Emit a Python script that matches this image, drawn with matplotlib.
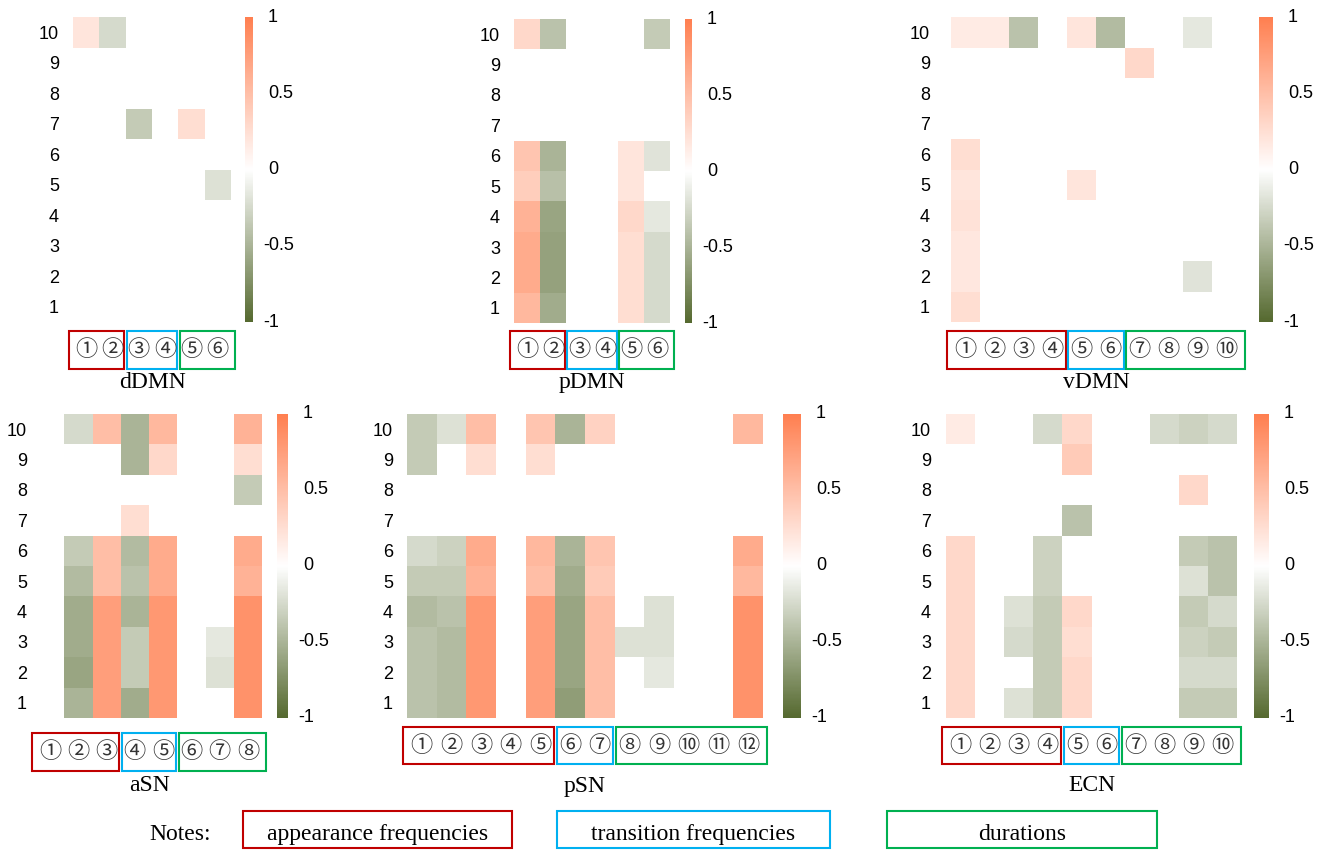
import numpy as np
import matplotlib.pyplot as plt
import matplotlib.transforms as mtransforms
from matplotlib.colors import LinearSegmentedColormap
from matplotlib.patches import Rectangle

n = np.nan

# values of each network, rows from 10 (top) to 1 (bottom)
ddmn = [
    [0.2, -0.25, n, n, n, n],
    [n, n, n, n, n, n],
    [n, n, n, n, n, n],
    [n, n, -0.35, n, 0.25, n],
    [n, n, n, n, n, n],
    [n, n, n, n, n, -0.2],
    [n, n, n, n, n, n],
    [n, n, n, n, n, n],
    [n, n, n, n, n, n],
    [n, n, n, n, n, n],
]
pdmn = [
    [0.3, -0.4, n, n, n, -0.35],
    [n, n, n, n, n, n],
    [n, n, n, n, n, n],
    [n, n, n, n, n, n],
    [0.45, -0.5, n, n, 0.2, -0.18],
    [0.38, -0.42, n, n, 0.2, n],
    [0.6, -0.6, n, n, 0.3, -0.15],
    [0.65, -0.62, n, n, 0.25, -0.25],
    [0.65, -0.62, n, n, 0.25, -0.25],
    [0.55, -0.55, n, n, 0.25, -0.25],
]
vdmn = [
    [0.15, 0.15, -0.4, n, 0.2, -0.45, n, n, -0.15, n],
    [n, n, n, n, n, n, 0.3, n, n, n],
    [n, n, n, n, n, n, n, n, n, n],
    [n, n, n, n, n, n, n, n, n, n],
    [0.25, n, n, n, n, n, n, n, n, n],
    [0.2, n, n, n, 0.2, n, n, n, n, n],
    [0.22, n, n, n, n, n, n, n, n, n],
    [0.18, n, n, n, n, n, n, n, n, n],
    [0.18, n, n, n, n, n, n, n, -0.18, n],
    [0.25, n, n, n, n, n, n, n, n, n],
]
asn = [
    [n, -0.25, 0.5, -0.5, 0.55, n, n, 0.6],
    [n, n, n, -0.5, 0.3, n, n, 0.25],
    [n, n, n, n, n, n, n, -0.35],
    [n, n, n, 0.25, n, n, n, n],
    [n, -0.35, 0.5, -0.45, 0.65, n, n, 0.65],
    [n, -0.45, 0.5, -0.4, 0.65, n, n, 0.6],
    [n, -0.55, 0.75, -0.5, 0.8, n, n, 0.85],
    [n, -0.55, 0.75, -0.35, 0.8, n, -0.15, 0.85],
    [n, -0.6, 0.75, -0.35, 0.8, n, -0.2, 0.85],
    [n, -0.5, 0.75, -0.55, 0.8, n, n, 0.85],
]
psn = [
    [-0.35, -0.2, 0.5, n, 0.45, -0.5, 0.35, n, n, n, n, 0.55],
    [-0.35, n, 0.25, n, 0.25, n, n, n, n, n, n, n],
    [n, n, n, n, n, n, n, n, n, n, n, n],
    [n, n, n, n, n, n, n, n, n, n, n, n],
    [-0.25, -0.3, 0.65, n, 0.55, -0.5, 0.45, n, n, n, n, 0.65],
    [-0.35, -0.35, 0.6, n, 0.5, -0.55, 0.4, n, n, n, n, 0.55],
    [-0.45, -0.4, 0.8, n, 0.75, -0.6, 0.5, n, -0.2, n, n, 0.85],
    [-0.4, -0.45, 0.8, n, 0.75, -0.6, 0.5, -0.2, -0.2, n, n, 0.85],
    [-0.4, -0.45, 0.8, n, 0.75, -0.6, 0.5, n, -0.15, n, n, 0.85],
    [-0.4, -0.45, 0.8, n, 0.75, -0.65, 0.5, n, n, n, n, 0.85],
]
ecn = [
    [0.15, n, n, -0.25, 0.3, n, n, -0.25, -0.3, -0.25],
    [n, n, n, n, 0.4, n, n, n, n, n],
    [n, n, n, n, n, n, n, n, 0.3, n],
    [n, n, n, n, -0.4, n, n, n, n, n],
    [0.3, n, n, -0.3, n, n, n, n, -0.35, -0.4],
    [0.3, n, n, -0.3, n, n, n, n, -0.2, -0.4],
    [0.3, n, -0.2, -0.35, 0.3, n, n, n, -0.35, -0.25],
    [0.3, n, -0.25, -0.35, 0.25, n, n, n, -0.3, -0.35],
    [0.3, n, n, -0.35, 0.3, n, n, n, -0.25, -0.25],
    [0.3, n, -0.2, -0.35, 0.3, n, n, n, -0.35, -0.35],
]

names = ["dDMN", "pDMN", "vDMN", "aSN", "pSN", "ECN"]
values = [ddmn, pdmn, vdmn, asn, psn, ecn]
groups = [(2, 2, 2), (2, 2, 2), (4, 2, 4), (3, 2, 3), (5, 2, 5), (4, 2, 4)]
row_labels = ["10", "9", "8", "7", "6", "5", "4", "3", "2", "1"]
cbar_ticks = [1, 0.5, 0, -0.5, -1]
circled = "①②③④⑤⑥⑦⑧⑨⑩⑪⑫"
note_labels = ["appearance frequencies", "transition frequencies", "durations"]

# layout in pixels: heatmap x0,x1,y0,y1 / colorbar x0,x1 / box y0,y1 / title baseline / tick pad
layout = [
    ((73, 231, 17, 322), (245, 253), (331, 369), 388, 14),
    ((514, 670, 19, 323), (685, 692), (331, 369), 388, 14),
    ((951, 1241, 17, 322), (1259, 1273), (331, 369), 388, 21),
    ((36, 262, 414, 718), (277, 288), (733, 771), 791, 9),
    ((407, 763, 414, 718), (783, 801), (727, 764), 792, 14),
    ((946, 1237, 414, 718), (1254, 1269), (727, 764), 791, 15),
]

W, H = 1325, 857
box_colors = ["#c00000", "#00b0f0", "#00b050"]
cmap = LinearSegmentedColormap.from_list(
    "gw", [(0, "#55692f"), (0.5, "#ffffff"), (1, "#ff7f50")])

sans = ["Liberation Sans", "DejaVu Sans"]
serif = ["Liberation Serif", "DejaVu Serif"]
cjk = ["Noto Sans CJK SC", "DejaVu Sans"]

fig = plt.figure(figsize=(W / 100, H / 100), dpi=100)


def fx(px):
    return px / W


def fy(py):
    return 1 - py / H


for name, vals, grp, lay in zip(names, values, groups, layout):
    (x0, x1, y0, y1), (c0, c1), (b0, b1), ty, pad = lay
    data = np.ma.masked_invalid(np.array(vals, dtype=float))
    nrow, ncol = data.shape

    ax = fig.add_axes([fx(x0), fy(y1), fx(x1 - x0), (y1 - y0) / H])
    mesh = ax.pcolormesh(np.arange(ncol + 1), np.arange(nrow + 1), data,
                         cmap=cmap, vmin=-1, vmax=1)
    ax.set_xlim(0, ncol)
    ax.set_ylim(nrow, 0)
    ax.set_xticks([])
    ax.set_yticks(np.arange(nrow) + 0.5)
    ax.set_yticklabels(row_labels, family=sans, fontsize=13)
    ax.tick_params(axis="y", length=0, pad=pad * 0.72)
    for s in ax.spines.values():
        s.set_visible(False)

    # colorbar
    cax = fig.add_axes([fx(c0), fy(y1), fx(c1 - c0), (y1 - y0) / H])
    cb = fig.colorbar(mesh, cax=cax)
    cb.outline.set_visible(False)
    cax.set_yticks([])
    tr = mtransforms.blended_transform_factory(fig.transFigure, cax.transData)
    for t in cbar_ticks:
        lab = "%g" % t
        xoff = 10 if t < 0 else 15
        cax.text(fx(c1 + xoff), t, lab, transform=tr, ha="left", va="center",
                 family=sans, fontsize=13)

    # group boxes and circled numbers
    btr = mtransforms.blended_transform_factory(ax.transData, fig.transFigure)
    start = 0
    for gi, g in enumerate(grp):
        left = start - 0.15 if gi == 0 else start + 0.05
        right = start + g + 0.15 if gi == len(grp) - 1 else start + g - 0.05
        ax.add_patch(Rectangle((left, fy(b1)), right - left, (b1 - b0) / H,
                               transform=btr, fill=False, lw=1.5,
                               edgecolor=box_colors[gi], clip_on=False))
        start += g
    for c in range(ncol):
        ax.text(c + 0.5, fy((b0 + b1) / 2), circled[c], transform=btr,
                ha="center", va="center", family=cjk, fontsize=16,
                color="#333333")

    fig.text(fx((x0 + x1) / 2), fy(ty), name, ha="center", va="baseline",
             family=serif, fontsize=17)

# notes row
fig.text(fx(180), fy(840), "Notes:", ha="center", va="baseline",
         family=serif, fontsize=17)
note_x = [(243, 512), (557, 830), (887, 1157)]
for (a, b), lab, col in zip(note_x, note_labels, box_colors):
    fig.patches.append(Rectangle((fx(a), fy(848)), fx(b - a), 37 / H,
                                 transform=fig.transFigure, fill=False,
                                 lw=1.5, edgecolor=col))
    fig.text(fx((a + b) / 2), fy(840), lab, ha="center", va="baseline",
             family=serif, fontsize=17)

fig.savefig("out.png", dpi=100)
